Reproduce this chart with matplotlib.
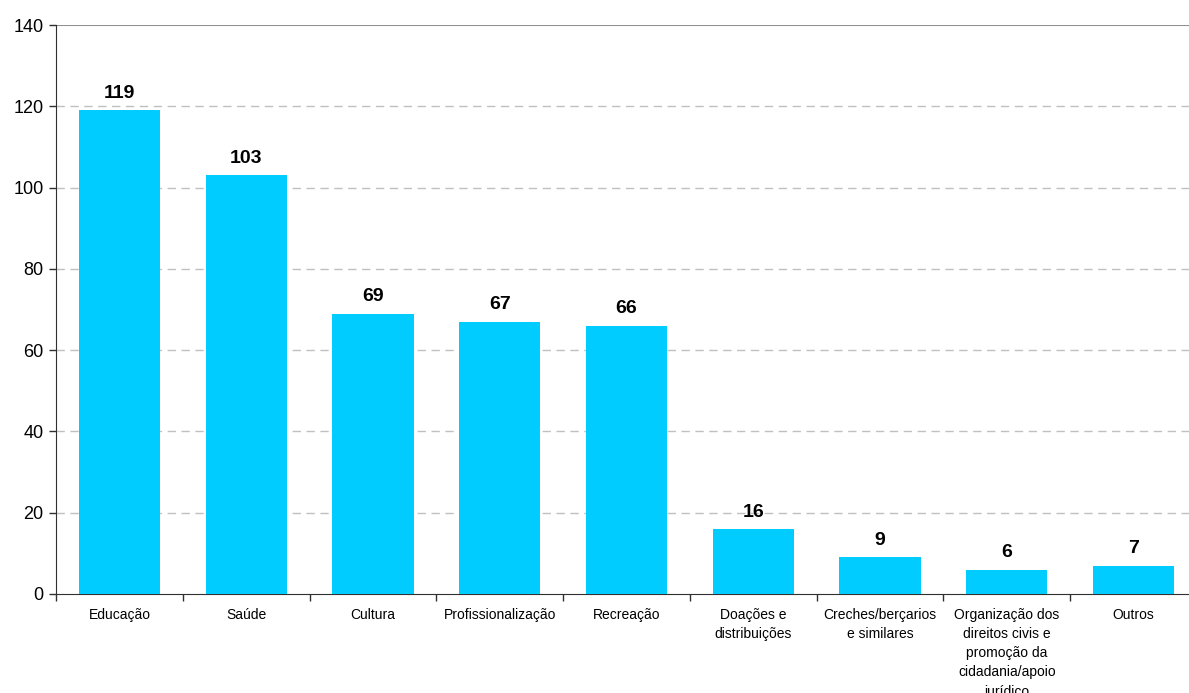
import numpy as np
import matplotlib.pyplot as plt

# Number of entities per area of activity
categorias = ['Educação', 'Saúde', 'Cultura', 'Profissionalização', 'Recreação',
              'Doações e\ndistribuições', 'Creches/berçarios\ne similares',
              'Organização dos\ndireitos civis e\npromoção da\ncidadania/apoio\njurídico',
              'Outros']
valores = [119, 103, 69, 67, 66, 16, 9, 6, 7]

plt.rcParams['font.family'] = ['Liberation Sans', 'DejaVu Sans']

fig = plt.figure(figsize=(11.89, 6.93), dpi=100, facecolor='w')
W, H = 1189.0, 693.0
ax = fig.add_axes([56 / W, 99 / H, (1197 - 56) / W, (594 - 25) / H])

x = np.arange(len(categorias))
bars = ax.bar(x, valores, width=0.64, color='#00CCFF', zorder=3)

for xi, v in zip(x, valores):
    ax.annotate(str(v), (xi, v), xytext=(0, 6), textcoords='offset points',
                ha='center', va='bottom', fontsize=14, fontweight='bold')

ax.set_xlim(-0.5, len(categorias) - 0.5)
ax.set_ylim(0, 140)
ax.set_yticks(range(0, 141, 20))
ax.tick_params(axis='y', labelsize=13, length=5, width=1, color='#303030', pad=4)

ax.set_xticks(x)
ax.set_xticklabels(categorias, fontsize=10, linespacing=1.47)
ax.set_xticks(np.arange(len(categorias) + 1) - 0.5, minor=True)
ax.tick_params(axis='x', which='major', length=0, pad=10)
ax.tick_params(axis='x', which='minor', length=5, width=1, color='#303030')

for yv in range(20, 140, 20):
    ax.axhline(yv, color='#c0c0c0', lw=1, ls=(0, (6, 4)), zorder=1)
ax.axhline(140, color='#909090', lw=1.5, zorder=1)

for spine in ('top', 'right'):
    ax.spines[spine].set_visible(False)
ax.spines['left'].set_color('#303030')
ax.spines['bottom'].set_color('#303030')

fig.savefig('out.png', dpi=100)
